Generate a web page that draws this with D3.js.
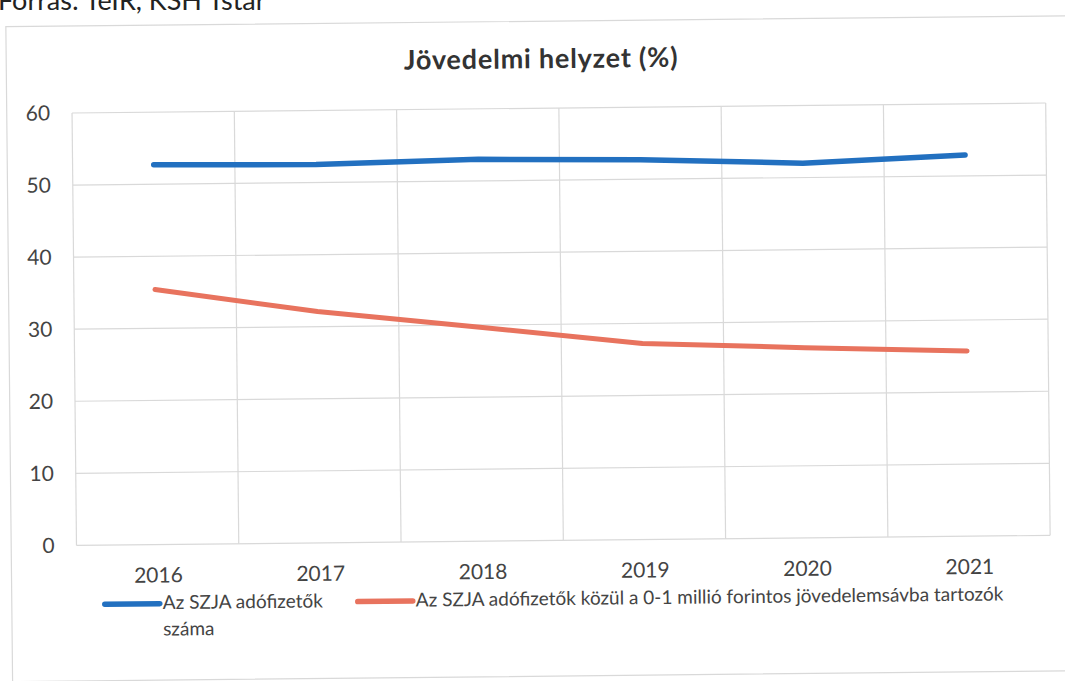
<!DOCTYPE html>
<html>
<head>
<meta charset="utf-8">
<script src="https://cdn.jsdelivr.net/npm/d3@7"></script>
<style>
  html, body { margin: 0; padding: 0; background: #ffffff; }
  svg { display: block; }
  text { font-family: Lato, "Open Sans", sans-serif; }
</style>
</head>
<body>
<script>
// ---- data ----
const years = ["2016", "2017", "2018", "2019", "2020", "2021"];
const szjaPayers = [52.7, 52.5, 53.0, 52.7, 52.0, 52.9];
const lowIncomeShare = [35.4, 32.1, 29.7, 27.2, 26.4, 25.7];
const yTicks = [0, 10, 20, 30, 40, 50, 60];
const titleText = "Jövedelmi helyzet (%)";
const sourceText = "Forrás: TeIR, KSH Tstar";
const seriesNames = ["Az SZJA adófizetők száma", "Az SZJA adófizetők közül a 0-1 millió forintos jövedelemsávba tartozók"];

const W = 1065, H = 681;
const plot = { left: 74.3, right: 1048, top: 108, bottom: 540.4 };
const blue = "#2270C0", red = "#E8735E";

const svg = d3.select("body").append("svg").attr("width", W).attr("height", H);

// source text, cut off at the top as in the scan
svg.append("text").attr("x", -2).attr("y", 10)
  .attr("font-size", 27).attr("fill", "#222").text(sourceText);

// whole scanned chart is slightly rotated
const g = svg.append("g").attr("transform", "rotate(-0.59, 561, 330)");

// chart frame
g.append("rect").attr("x", 9).attr("y", 21).attr("width", 1070).attr("height", 655)
  .attr("fill", "none").attr("stroke", "#D9D9D9").attr("stroke-width", 1.2);

const x = d3.scalePoint().domain(years).range([plot.left, plot.right]).padding(0.5);
const y = d3.scaleLinear().domain([0, 60]).range([plot.bottom, plot.top]);

// horizontal gridlines
g.append("g").selectAll("line").data(yTicks).join("line")
  .attr("x1", plot.left).attr("x2", plot.right)
  .attr("y1", d => y(d)).attr("y2", d => y(d))
  .attr("stroke", "#D9D9D9").attr("stroke-width", 1.2);

// vertical gridlines at category boundaries
const step = x.step();
const bounds = d3.range(years.length + 1).map(i => plot.left + i * step);
g.append("g").selectAll("line").data(bounds).join("line")
  .attr("x1", d => d).attr("x2", d => d)
  .attr("y1", plot.top).attr("y2", plot.bottom)
  .attr("stroke", "#D9D9D9").attr("stroke-width", 1.2);

// y axis labels
const yAxis = d3.axisLeft(y).tickValues(yTicks).tickSize(0).tickPadding(22);
const ya = g.append("g").attr("transform", `translate(${plot.left},0)`).call(yAxis);
ya.select(".domain").remove();
ya.selectAll("text").attr("font-size", 21).attr("fill", "#444").attr("font-family", "Lato, sans-serif");

// x axis labels
const xAxis = d3.axisBottom(x).tickSize(0).tickPadding(23);
const xa = g.append("g").attr("transform", `translate(0,${plot.bottom})`).call(xAxis);
xa.select(".domain").remove();
xa.selectAll("text").attr("font-size", 21).attr("fill", "#444").attr("font-family", "Lato, sans-serif");

// lines
const line = d3.line().x((d, i) => x(years[i])).y(d => y(d));
g.append("path").datum(lowIncomeShare).attr("d", line)
  .attr("fill", "none").attr("stroke", red).attr("stroke-width", 5)
  .attr("stroke-linecap", "round").attr("stroke-linejoin", "round");
g.append("path").datum(szjaPayers).attr("d", line)
  .attr("fill", "none").attr("stroke", blue).attr("stroke-width", 5.5)
  .attr("stroke-linecap", "round").attr("stroke-linejoin", "round");

// title
g.append("text").attr("x", 544).attr("y", 68).attr("text-anchor", "middle")
  .attr("font-size", 27).attr("font-weight", "bold").attr("letter-spacing", 0.8)
  .attr("fill", "#333").text(titleText);

// legend
const leg = g.append("g");
leg.append("line").attr("x1", 102).attr("x2", 157).attr("y1", 599.5).attr("y2", 599.5)
  .attr("stroke", blue).attr("stroke-width", 5.5).attr("stroke-linecap", "round");
const t1 = leg.append("text").attr("x", 160).attr("y", 605).attr("font-size", 19).attr("fill", "#444");
t1.append("tspan").attr("x", 160).text("Az SZJA adófizetők");
t1.append("tspan").attr("x", 160).attr("dy", 26.5).text("száma");
leg.append("line").attr("x1", 355).attr("x2", 410).attr("y1", 599.5).attr("y2", 599.5)
  .attr("stroke", red).attr("stroke-width", 5.5).attr("stroke-linecap", "round");
leg.append("text").attr("x", 413).attr("y", 605).attr("font-size", 19).attr("fill", "#444")
  .text(seriesNames[1]);
</script>
</body>
</html>
